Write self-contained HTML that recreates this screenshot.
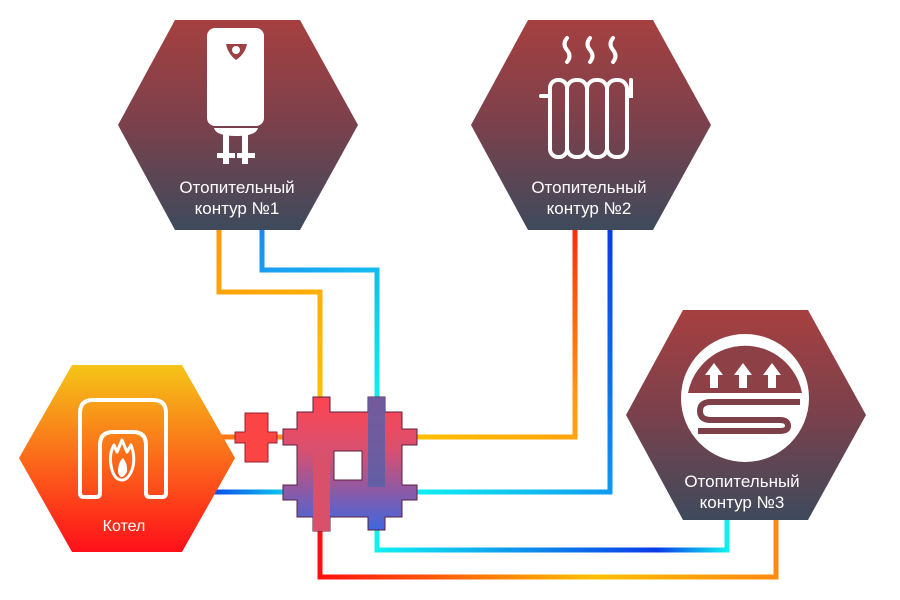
<!DOCTYPE html>
<html><head><meta charset="utf-8"><style>
html,body{margin:0;padding:0;background:#fff;}
svg{display:block}
text{font-family:"Liberation Sans",sans-serif;fill:#fff;}
</style></head><body>
<svg width="900" height="600" viewBox="0 0 900 600" xmlns="http://www.w3.org/2000/svg">
<defs>
<linearGradient id="hx" x1="0" y1="0" x2="0" y2="1">
<stop offset="0" stop-color="#a64040"/><stop offset="0.5" stop-color="#7a414c"/><stop offset="1" stop-color="#3e4a5c"/></linearGradient>
<linearGradient id="bo" x1="0" y1="0" x2="0" y2="1">
<stop offset="0" stop-color="#f5c518"/><stop offset="0.5" stop-color="#fb6a1a"/><stop offset="1" stop-color="#ff0f1a"/></linearGradient>
<linearGradient id="mf" x1="0" y1="0" x2="0" y2="1">
<stop offset="0" stop-color="#ff4450"/><stop offset="0.4" stop-color="#d85070"/><stop offset="0.7" stop-color="#8c5aa6"/><stop offset="1" stop-color="#3c68e0"/></linearGradient>
<linearGradient id="g1" gradientUnits="userSpaceOnUse" x1="219" y1="230" x2="320" y2="400"><stop offset="0" stop-color="#ff9a10"/><stop offset="1" stop-color="#ffc000"/></linearGradient>
<linearGradient id="g2" gradientUnits="userSpaceOnUse" x1="262" y1="230" x2="377" y2="400"><stop offset="0" stop-color="#1a8cf0"/><stop offset="1" stop-color="#10f0f0"/></linearGradient>
<linearGradient id="g3" gradientUnits="userSpaceOnUse" x1="575" y1="230" x2="415" y2="437"><stop offset="0" stop-color="#ff2a10"/><stop offset="0.5" stop-color="#ff9a10"/><stop offset="1" stop-color="#ffc000"/></linearGradient>
<linearGradient id="g4" gradientUnits="userSpaceOnUse" x1="610" y1="230" x2="415" y2="492"><stop offset="0" stop-color="#0a3ae8"/><stop offset="0.6" stop-color="#1090f0"/><stop offset="1" stop-color="#10f0f0"/></linearGradient>
<linearGradient id="g5" gradientUnits="userSpaceOnUse" x1="377" y1="0" x2="727" y2="0"><stop offset="0" stop-color="#10f0f0"/><stop offset="0.8" stop-color="#0a3ae8"/><stop offset="1" stop-color="#10f0f0"/></linearGradient>
<linearGradient id="g6" gradientUnits="userSpaceOnUse" x1="320" y1="0" x2="776" y2="0"><stop offset="0" stop-color="#ff1010"/><stop offset="0.6" stop-color="#ffc000"/><stop offset="1" stop-color="#ff8a10"/></linearGradient>
<linearGradient id="g7" gradientUnits="userSpaceOnUse" x1="215" y1="0" x2="290" y2="0"><stop offset="0" stop-color="#ff7010"/><stop offset="1" stop-color="#ff9020"/></linearGradient>
<linearGradient id="g8" gradientUnits="userSpaceOnUse" x1="215" y1="0" x2="290" y2="0"><stop offset="0" stop-color="#0a50e8"/><stop offset="1" stop-color="#10d0f0"/></linearGradient>
</defs>

<g fill="none" stroke-width="5">
<polyline points="219,225 219,292 320,292 320,405" stroke="url(#g1)"/>
<polyline points="262,225 262,270 377,270 377,405" stroke="url(#g2)"/>
<polyline points="575,225 575,437 410,437" stroke="url(#g3)"/>
<polyline points="610,225 610,492 410,492" stroke="url(#g4)"/>
<polyline points="377,520 377,550 727,550 727,515" stroke="url(#g5)"/>
<polyline points="320,520 320,577 776,577 776,515" stroke="url(#g6)"/>
<line x1="210" y1="437" x2="290" y2="437" stroke="url(#g7)"/>
<line x1="210" y1="492" x2="290" y2="492" stroke="url(#g8)"/>
</g>

<polygon points="175,20 300,20 358,125 300,230 175,230 118,125" fill="url(#hx)"/>
<polygon points="528,20 653,20 711,125 653,230 528,230 471,125" fill="url(#hx)"/>
<polygon points="683,310 808,310 866,415 808,520 683,520 626,415" fill="url(#hx)"/>
<polygon points="72,365 182,365 235,458 182,552 72,552 19,458" fill="url(#bo)"/>

<g fill="none" stroke="#fff" stroke-width="4" stroke-linejoin="round">
<path d="M93,400 Q80,400 80,413 L80,493 Q80,497 84,497 L96,497 Q100,497 100,493 L100,445 Q100,432 113,432 L133,432 Q146,432 146,445 L146,493 Q146,497 150,497 L162,497 Q166,497 166,493 L166,413 Q166,400 153,400 Z"/>
<path d="M112,470 Q108,455 114,445 L117,452 L122,440 L127,452 L131,445 Q136,458 132,470 Q128,480 122,480 Q115,480 112,470 Z" stroke-width="3"/>
</g>
<path d="M118,472 Q118,462 123,458 Q128,464 127,472 Q124,477 122,477 Q119,477 118,472Z" fill="#fff"/>
<text x="124" y="531" font-size="16" text-anchor="middle">Котел</text>

<g fill="#fff">
<rect x="207" y="28" width="57" height="98" rx="8"/>
<path d="M214,128 L258,128 Q256,136 236,136 Q216,136 214,128Z"/>
<rect x="223" y="132" width="6" height="32"/><rect x="242" y="132" width="6" height="32"/>
<rect x="217" y="153" width="18" height="5"/><rect x="237" y="153" width="18" height="5"/>
</g>
<path d="M226,44 L247,44 Q245,54 236,60 Q228,54 226,44 Z" fill="#9d4044"/><circle cx="236" cy="50" r="4" fill="#fff"/>
<text x="237" y="193" font-size="17" text-anchor="middle">Отопительный</text>
<text x="237" y="214" font-size="17" text-anchor="middle">контур  №1</text>

<g fill="none" stroke="#fff" stroke-width="4" stroke-linecap="round">
<path d="M567,38 q-5,6 0,12 q5,6 0,12 M590,38 q-5,6 0,12 q5,6 0,12 M613,38 q-5,6 0,12 q5,6 0,12"/>
<path d="M541,96 L550,96 M631,80 L631,96 L628,96"/>
<rect x="550" y="80" width="17" height="77" rx="8"/>
<rect x="567" y="80" width="20" height="77" rx="9"/>
<rect x="587" y="80" width="20" height="77" rx="9"/>
<rect x="607" y="80" width="20" height="77" rx="9"/>
</g>
<text x="589" y="193" font-size="17" text-anchor="middle">Отопительный</text>
<text x="589" y="214" font-size="17" text-anchor="middle">контур  №2</text>

<circle cx="745" cy="398" r="64" fill="#fff"/>
<path d="M688,393 A58,58 0 0 1 802,393 Z" fill="#8e4047"/>
<g fill="#fff"><path d="M705,375 L714,363 L723,375 L718,375 L718,388 L710,388 L710,375Z"/>
<path d="M734,375 L743,363 L752,375 L747,375 L747,388 L739,388 L739,375Z"/>
<path d="M763,375 L772,363 L781,375 L776,375 L776,388 L768,388 L768,375Z"/></g>
<path d="M800,402 L711,402 Q700,402 700,411 Q700,420 711,420 L780,420 Q788,420 788,426 Q788,431 780,431 L698,431" fill="none" stroke="#7d4049" stroke-width="6"/>
<text x="742" y="487" font-size="17" text-anchor="middle">Отопительный</text>
<text x="742" y="508" font-size="17" text-anchor="middle">контур  №3</text>

<g fill="#fb4444" stroke="#9a2030" stroke-width="1">
<path d="M245,413 L268,413 L268,432 L277,432 L277,443 L268,443 L268,462 L245,462 L245,443 L235,443 L235,432 L245,432Z"/>
</g>
<path d="M297,412 L313,412 L313,397 L330,397 L330,412 L368,412 L368,397 L385,397 L385,412 L402,412 L402,429 L417,429 L417,445 L402,445 L402,485 L417,485 L417,500 L402,500 L402,517 L385,517 L385,530 L368,530 L368,517 L330,517 L330,531 L313,531 L313,517 L297,517 L297,500 L283,500 L283,485 L297,485 L297,445 L283,445 L283,429 L297,429 Z M334,451 L334,480 L362,480 L362,451 Z" fill="url(#mf)" fill-rule="evenodd" stroke="#5a2040" stroke-width="1"/>
<rect x="368" y="397" width="17" height="90" fill="#5a5fa8" opacity="0.85"/>
<rect x="313" y="452" width="17" height="79" fill="#d9506a"/>
</svg>
</body></html>
